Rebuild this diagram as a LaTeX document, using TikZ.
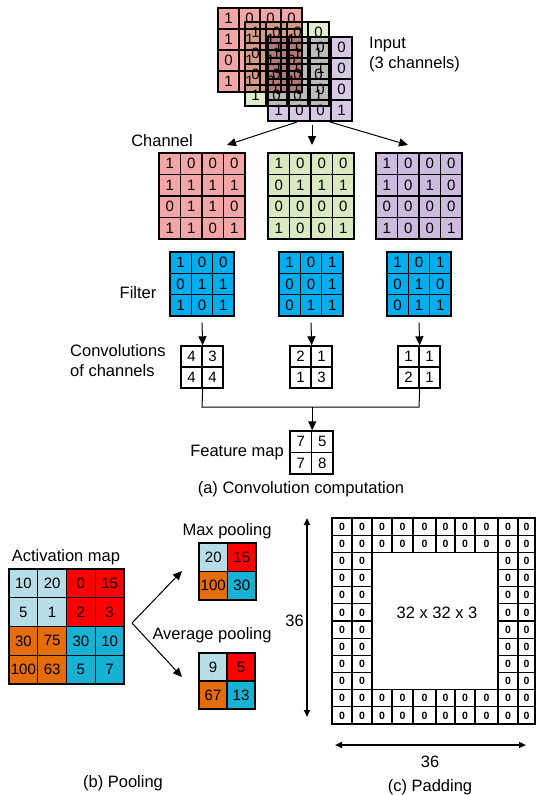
\documentclass[tikz,border=0pt]{standalone}
\usepackage{fontspec}
\setmainfont{Liberation Sans}
\usetikzlibrary{arrows.meta}
\definecolor{cred}{RGB}{244,166,166}
\definecolor{cgreen}{RGB}{217,234,193}
\definecolor{cpurple}{RGB}{204,187,222}
\definecolor{cblue}{RGB}{0,174,239}
\definecolor{plb}{RGB}{183,222,232}
\definecolor{pred}{RGB}{255,0,0}
\definecolor{por}{RGB}{228,108,10}
\definecolor{pteal}{RGB}{23,177,212}
\tikzset{
  cellbox/.style={draw=black, line width=1.4pt, inner sep=0pt, font=\fontsize{15}{15}\selectfont},
  lbl/.style={font=\fontsize{16.5}{20}\selectfont, inner sep=0pt},
  arr/.style={line width=1pt, -{Triangle[length=9pt,width=8pt]}},
  padcell/.style={draw=black, line width=1.1pt, inner sep=0pt, font=\fontsize{10.5}{10.5}\selectfont\bfseries},
  dimarr/.style={line width=1.8pt, {Triangle[length=7pt,width=6pt]}-{Triangle[length=7pt,width=6pt]}},
  layer/.style={blend mode=multiply, fill opacity=0.8, text opacity=1, draw opacity=1},
}
% #1 name, #2 x0, #3 y0, #4 cell size, #5 fill, #6 rows
\newcommand{\cellgrid}[6]{%
  \foreach \rowlist [count=\i] in {#6} {
    \foreach \v [count=\j] in \rowlist {
      \node[cellbox, fill=#5, minimum size=#4pt] (#1-\i-\j) at ({#2+(\j-0.5)*#4},{#3+(\i-0.5)*#4}) {\v};
    }
  }
}
% coloured cells: items value/colour
\newcommand{\colgrid}[5]{%
  \foreach \rowlist [count=\i] in {#5} {
    \foreach \v/\c [count=\j] in \rowlist {
      \node[cellbox, fill=\c, minimum size=#4pt] (#1-\i-\j) at ({#2+(\j-0.5)*#4},{#3+(\i-0.5)*#4}) {\v};
    }
  }
}
\begin{document}
\begin{tikzpicture}[x=1pt,y=-1pt]
\useasboundingbox (0,0) rectangle (536,795);

% ---------- input stack ----------
\cellgrid{inR}{218}{8}{21}{cred}{{1,0,0,0},{1,1,1,1},{0,1,1,0},{1,1,0,1}}
\begin{scope}[layer]
\cellgrid{inG}{245}{22}{21}{cgreen}{{1,0,0,0},{0,1,1,1},{0,0,0,0},{1,0,0,1}}
\end{scope}
\begin{scope}[layer]
\cellgrid{inP}{268}{37}{21}{cpurple}{{1,0,0,0},{1,0,1,0},{0,0,0,0},{1,0,0,1}}
\end{scope}
\node[lbl, anchor=west, align=left] (inputlbl) at (369,55) {Input\\(3 channels)};

% ---------- channels ----------
\node[lbl] (chanlbl) at (162,141) {Channel};
\cellgrid{chR}{159}{153}{21.5}{cred}{{1,0,0,0},{1,1,1,1},{0,1,1,0},{1,1,0,1}}
\cellgrid{chG}{268}{153}{21.5}{cgreen}{{1,0,0,0},{0,1,1,1},{0,0,0,0},{1,0,0,1}}
\cellgrid{chP}{376}{153}{21.5}{cpurple}{{1,0,0,0},{1,0,1,0},{0,0,0,0},{1,0,0,1}}

\coordinate (s1) at (297,122);
\coordinate (s2) at (312,125);
\coordinate (s3) at (330,122);
\coordinate (t1) at (227,145);
\coordinate (t2) at (312,145);
\coordinate (t3) at (408,145);
\draw[arr] (s1) -- (t1);
\draw[arr] (s2) -- (t2);
\draw[arr] (s3) -- (t3);

% ---------- filters ----------
\node[lbl] (filterlbl) at (138,293) {Filter};
\cellgrid{fA}{170}{252}{21.33}{cblue}{{1,0,0},{0,1,1},{1,0,1}}
\cellgrid{fB}{279}{252}{21.33}{cblue}{{1,0,1},{0,0,1},{0,1,1}}
\cellgrid{fC}{387}{252}{21.33}{cblue}{{1,0,1},{0,1,0},{0,1,1}}

% ---------- convolutions ----------
\node[lbl, anchor=west, align=left] (convlbl) at (70,361) {Convolutions\\of channels};
\cellgrid{cA}{181}{346}{21}{white}{{4,3},{4,4}}
\cellgrid{cB}{290}{346}{21}{white}{{2,1},{1,3}}
\cellgrid{cC}{398}{346}{21}{white}{{1,1},{2,1}}

\draw[arr] ([yshift=-6pt]fA-3-2.south) -- (cA-1-1.north east);
\draw[arr] ([yshift=-6pt]fB-3-2.south) -- (cB-1-1.north east);
\draw[arr] ([yshift=-6pt]fC-3-2.south) -- (cC-1-1.north east);

% ---------- feature map ----------
\cellgrid{fm}{290}{431}{21.5}{white}{{7,5},{7,8}}
\node[lbl, anchor=east] (fmlbl) at (284,453) {Feature map};
\coordinate (jL) at (202,407);
\coordinate (jR) at (419,407);
\draw[line width=1pt] (cA-2-1.south east) -- (jL) -- (jR) -- (cC-2-1.south east);
\draw[arr] (jL -| fm-1-1.north east) -- (fm-1-1.north east);
\node[lbl] (capa) at (301,489) {(a) Convolution computation};

% ---------- pooling ----------
\node[lbl] (actlbl) at (66,557) {Activation map};
\colgrid{act}{9}{569}{28.75}{{10/plb,20/plb,0/pred,15/pred},{5/plb,1/plb,2/pred,3/pred},{30/por,75/por,30/pteal,10/pteal},{100/por,63/por,5/pteal,7/pteal}}
\node[lbl] (maxlbl) at (227,531) {Max pooling};
\colgrid{mx}{199}{543}{28.5}{{20/plb,15/pred},{100/por,30/pteal}}
\node[lbl] (avglbl) at (212,635) {Average pooling};
\colgrid{av}{199}{653}{28}{{9/plb,5/pred},{67/por,13/pteal}}
\coordinate (pv) at (132,623);
\coordinate (pu) at (182,571);
\coordinate (pd) at (182,677);
\draw[arr] (pv) -- (pu);
\draw[arr] (pv) -- (pd);
\node[lbl] (capb) at (123,783) {(b) Pooling};

% ---------- padding ----------
\foreach \xa/\xb [count=\c] in {332/352,352/372,372/392,392/413,413/436,436/455,455/475,475/498,498/518,518/535} {
  \foreach \r in {1,...,12} {
    \pgfmathtruncatemacro\show{(\r<3)||(\r>10)||(\c<3)||(\c>8)}
    \ifnum\show=1
      \pgfmathsetmacro\w{\xb-\xa}
      \node[padcell, minimum width=\w pt, minimum height=17.17pt] (pad-\r-\c) at ({(\xa+\xb)/2},{518+(\r-0.5)*17.17}) {0};
    \fi
  }
}
\node[lbl] (inner) at (437,613) {32 x 32 x 3};
\coordinate (vt) at (307,518);
\coordinate (vb) at (307,717);
\draw[dimarr] (vt) -- (vb);
\node[lbl, anchor=east] (v36) at (304,621) {36};
\coordinate (hl) at (335,745);
\coordinate (hr) at (526,745);
\draw[dimarr] (hl) -- (hr);
\node[lbl] (h36) at (430,762) {36};
\node[lbl] (capc) at (430,787) {(c) Padding};
\end{tikzpicture}
\end{document}
